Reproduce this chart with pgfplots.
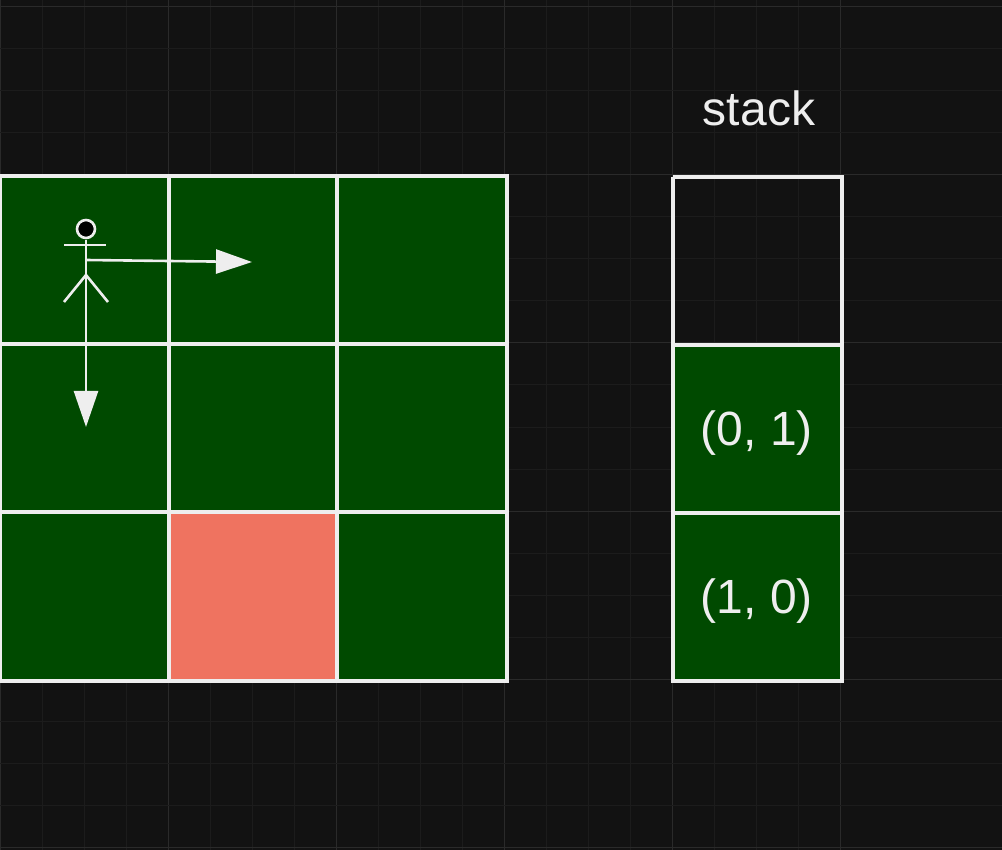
\documentclass[border=0pt]{standalone}
\usepackage{pgfplots}
\pgfplotsset{compat=1.18}
\usepackage{fontspec}
\setmainfont{Liberation Sans}
\usetikzlibrary{arrows.meta}
\definecolor{bg}{HTML}{121212}
\definecolor{gmaj}{HTML}{2A2A2A}
\definecolor{gmin}{HTML}{1C1C1C}
\definecolor{cellg}{HTML}{004A00}
\definecolor{cellr}{HTML}{EF7360}
\definecolor{wl}{HTML}{EEEEEE}
\begin{document}
\begin{tikzpicture}
\begin{axis}[
  name=main,
  width=501pt, height=425pt, scale only axis,
  xmin=0, xmax=1002, ymin=0, ymax=850, y dir=reverse,
  axis background/.style={fill=bg},
  axis line style={draw=none},
  xtick={0,168,336,504,672,840}, ytick={7,175,343,511,679,847},
  minor tick num=3,
  xticklabels={}, yticklabels={},
  major tick length=0pt, minor tick length=0pt,
  grid=both,
  major grid style={gmaj, line width=0.5pt},
  minor grid style={gmin, line width=0.5pt},
  clip=false,
]
\addplot[fill=cellg, draw=none] coordinates {(0,176) (507,176) (507,681) (0,681)} -- cycle;
\addplot[fill=cellr, draw=none] coordinates {(169,512) (336,512) (336,681) (169,681)} -- cycle;
\addplot[wl, line width=1.8pt] coordinates {(0,176) (507,176) (507,681) (0,681) (0,176)};
\addplot[wl, line width=1.8pt] coordinates {(169,176) (169,681)};
\addplot[wl, line width=1.8pt] coordinates {(337,176) (337,681)};
\addplot[wl, line width=1.8pt] coordinates {(0,344) (507,344)};
\addplot[wl, line width=1.8pt] coordinates {(0,512) (507,512)};
\addplot[fill=cellg, draw=none] coordinates {(673,344) (842,344) (842,681) (673,681)} -- cycle;
\addplot[wl, line width=1.8pt] coordinates {(673,177) (842,177) (842,681) (673,681) (673,177)};
\addplot[wl, line width=1.8pt] coordinates {(673,345) (842,345)};
\addplot[wl, line width=1.8pt] coordinates {(673,513) (842,513)};
\addplot[wl, line width=1.3pt] coordinates {(64,245) (106,245)};
\addplot[wl, line width=1.3pt] coordinates {(86,240) (86,275)};
\addplot[wl, line width=1.3pt] coordinates {(64,302) (86,275) (108,302)};
\addplot[wl, line width=1.3pt, -{Triangle[length=18pt,width=12pt]}] coordinates {(86,260) (252,262)};
\addplot[wl, line width=1.3pt, -{Triangle[length=18pt,width=12pt]}] coordinates {(86,275) (86,427)};
\addplot[only marks, mark=*, mark size=4.5pt, mark options={fill=black, draw=wl, line width=1.3pt}] coordinates {(86,229)};
\node[text=wl, font=\fontsize{24}{28}\selectfont] at (axis cs:759,108) {stack};
\node[text=wl, font=\fontsize{24}{28}\selectfont] at (axis cs:757,433) {(0, 1)};
\node[text=wl, font=\fontsize{24}{28}\selectfont] at (axis cs:757,601) {(1, 0)};
\end{axis}
\pgfresetboundingbox
\path (main.south west) rectangle (main.north east);
\end{tikzpicture}
\end{document}
